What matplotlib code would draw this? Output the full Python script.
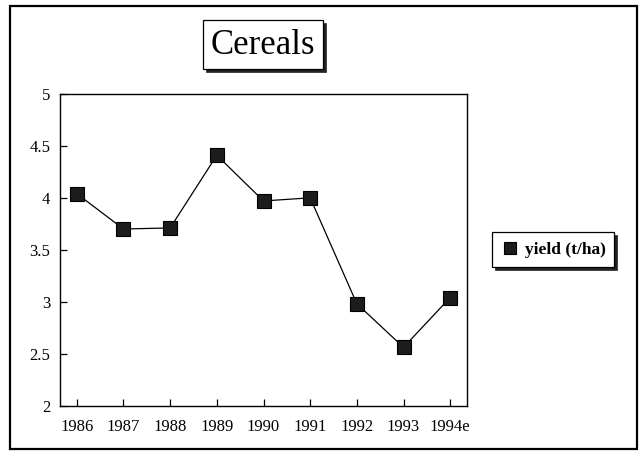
import matplotlib
matplotlib.use("Agg")
import matplotlib.pyplot as plt
from matplotlib.patches import Rectangle

# data
years = ["1986", "1987", "1988", "1989", "1990", "1991", "1992", "1993", "1994e"]
yield_tha = [4.04, 3.70, 3.71, 4.41, 3.97, 4.00, 2.98, 2.56, 3.04]
y_ticks = [2, 2.5, 3, 3.5, 4, 4.5, 5]
y_labels = ["2", "2.5", "3", "3.5", "4", "4.5", "5"]

plt.rcParams["font.family"] = ["Liberation Serif", "DejaVu Serif"]

W, H = 641, 451
fig = plt.figure(figsize=(W / 100, H / 100), dpi=100)
ax = fig.add_axes([60 / W, 1 - 405.5 / H, 407 / W, 311.5 / H])

x = list(range(len(years)))
ax.plot(x, yield_tha, color="black", lw=0.9, marker="s", markersize=9.8,
        markerfacecolor="#1c1c1c", markeredgecolor="black", markeredgewidth=0.8,
        label="yield (t/ha)")

ax.set_xlim(-0.36, len(years) - 1 + 0.36)
ax.set_ylim(2, 5)
ax.set_xticks(x)
ax.set_xticklabels(years)
ax.set_yticks(y_ticks)
ax.set_yticklabels(y_labels)
ax.tick_params(direction="in", length=5, width=0.9, labelsize=12, color="black")
ax.tick_params(axis="x", pad=10)
ax.tick_params(axis="y", pad=7)
for s in ax.spines.values():
    s.set_linewidth(1.0)

# outer frame
fig.patches.append(Rectangle((10 / W, 1 - 449 / H), 627 / W, 443 / H,
                             transform=fig.transFigure, fill=False,
                             edgecolor="black", lw=1.6))

def shadow_box(x0, y0, x1, y1):
    # pixel coords from the top-left, black drop shadow bottom-right
    sh = 2.5
    fig.patches.append(Rectangle((x0 / W + sh / W, 1 - (y1 + sh) / H),
                                 (x1 - x0) / W, (y1 - y0) / H,
                                 transform=fig.transFigure, facecolor="#222222",
                                 edgecolor="#222222", lw=0.5))
    fig.patches.append(Rectangle((x0 / W, 1 - y1 / H), (x1 - x0) / W, (y1 - y0) / H,
                                 transform=fig.transFigure, facecolor="white",
                                 edgecolor="black", lw=0.9))

# title box
shadow_box(203, 20, 323, 69)
fig.text(263 / W, 1 - 45 / H, "Cereals", ha="center", va="center", fontsize=25)

# legend box
shadow_box(492, 232, 614, 267)
leg = fig.legend(loc="center", bbox_to_anchor=(554 / W, 1 - 249.5 / H),
                 frameon=False, handlelength=0.9, handletextpad=0.4,
                 prop={"weight": "bold", "size": 12.5})
leg.get_lines()[0].set_linestyle("none")
leg.get_lines()[0].set_markersize(9)

fig.savefig("out.png", dpi=100)
